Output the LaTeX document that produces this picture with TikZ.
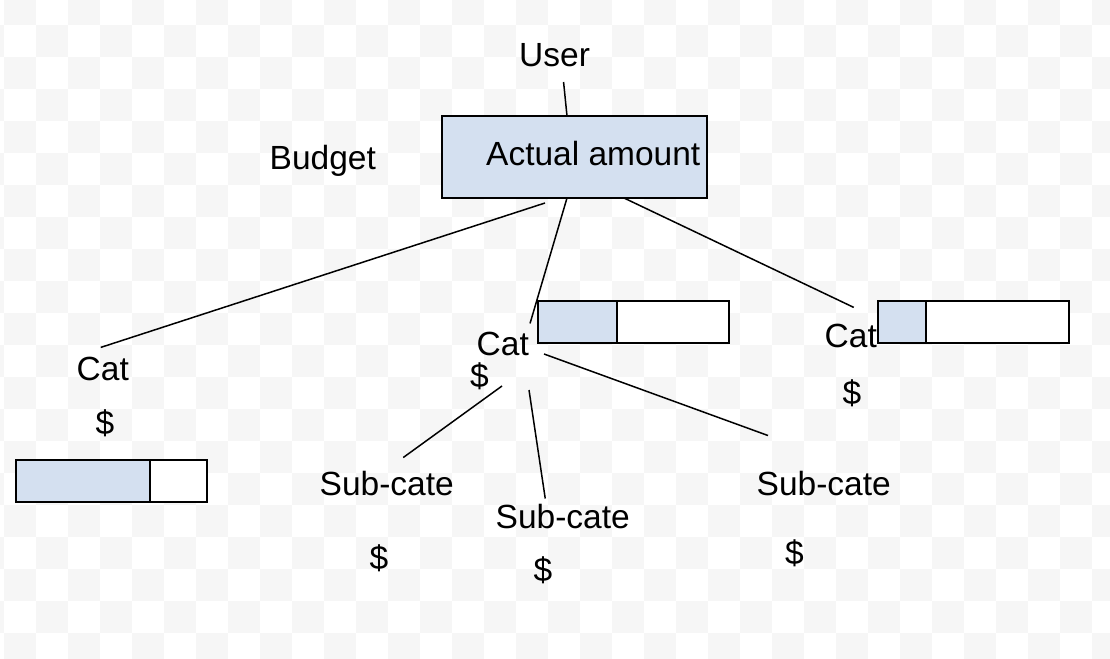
\documentclass[tikz,border=0pt]{standalone}
\usepackage{fontspec}
\setmainfont{Liberation Sans}
\usepackage{tikz}
\usetikzlibrary{calc}
\definecolor{barblue}{RGB}{212,224,240}
\definecolor{tilegray}{RGB}{246,246,246}
\newcommand\progbar[5]{% name, left x, top y, filled width, total width

  \node[FullSty,minimum width=#4pt,anchor=north west] at (#2,#3) (#1f) {};
  \node[EmptySty,minimum width=#5pt-#4pt,anchor=north west] at (#1f.north east) (#1e) {};

}

\begin{document}
\begin{tikzpicture}[x=1pt,y=-1pt]
		\tikzstyle{LblSty}=[inner sep=0pt,anchor=base west,font=\fontsize{33.5}{40}\selectfont]
		\tikzstyle{DolSty}=[inner sep=0pt,anchor=base,font=\fontsize{33.5}{40}\selectfont]
		\tikzstyle{LinkSty}=[line width=1.5pt]
		\tikzstyle{FullSty}=[draw,line width=2pt,fill=barblue,minimum height=42pt,inner sep=0pt,outer sep=0pt]
		\tikzstyle{EmptySty}=[draw,line width=2pt,fill=white,minimum height=42pt,inner sep=0pt,outer sep=0pt]
		\tikzstyle{TileSty}=[fill=tilegray]

\useasboundingbox (0,0) rectangle (1110,658);

\begin{scope}
  \clip (0,0) rectangle (1110,658);
  \foreach \i in {0,...,35}
  {
    \foreach \j in {0,...,21}
    {
      \pgfmathtruncatemacro\odd{mod(\i+\j,2)}
      \ifnum\odd=1 \fill[TileSty] (-28+32*\i,-7+32*\j) rectangle ++(32,32); \fi
    }
  }
\end{scope}

\node[LblSty] at (519,67) (user) {User};
\node[LblSty] at (269.5,169) (budget) {Budget};
\node[FullSty,minimum width=265pt,minimum height=82pt] at (574.5,157) (actual) {};
\node[LblSty] at (486,165) (actualtxt) {Actual amount};

\node[LblSty] at (76.5,380) (catL) {Cat};
\node[LblSty] at (476.5,355) (catM) {Cat};
\node[LblSty] at (824.5,347) (catR) {Cat};
\node[DolSty] at (105,434) (dolL) {\$};
\node[DolSty] at (479.5,387) (dolM) {\$};
\node[DolSty] at (852,404) (dolR) {\$};

\node[LblSty] at (319.5,495) (subL) {Sub-cate};
\node[LblSty] at (495.5,528) (subM) {Sub-cate};
\node[LblSty] at (756.5,495) (subR) {Sub-cate};
\node[DolSty] at (379,569) (dolSL) {\$};
\node[DolSty] at (543,581) (dolSM) {\$};
\node[DolSty] at (794.5,564) (dolSR) {\$};

\progbar{barL}{16}{460}{134}{191}
\progbar{barM}{538}{301}{79}{191}
\progbar{barR}{878}{301}{48}{191}

\draw[LinkSty] ($(user.base)+(9,15)$) -- ($(actual.north)+(-7.5,0)$);
\draw[LinkSty] ($(actual.south)+(-29.5,5)$) -- ($(catL.north)+(-2,-9)$);
\draw[LinkSty] ($(actual.south)+(-7.5,0)$) -- ($(catM.north east)+(1,-8)$);
\draw[LinkSty] ($(actual.south)+(49.5,0)$) -- ($(catR.north)+(3,-16)$);

\draw[LinkSty] ($(dolM.base)+(22.5,-1)$) -- ($(subL.north)+(16.5,-13)$);
\draw[LinkSty] ($(dolM.base)+(49.5,3)$) -- ($(subM.north)+(-17.5,-5)$);
\draw[LinkSty] ($(catM.base east)+(15,-1)$) -- ($(subR.north west)+(11.5,-35)$);

\end{tikzpicture}
\end{document}
